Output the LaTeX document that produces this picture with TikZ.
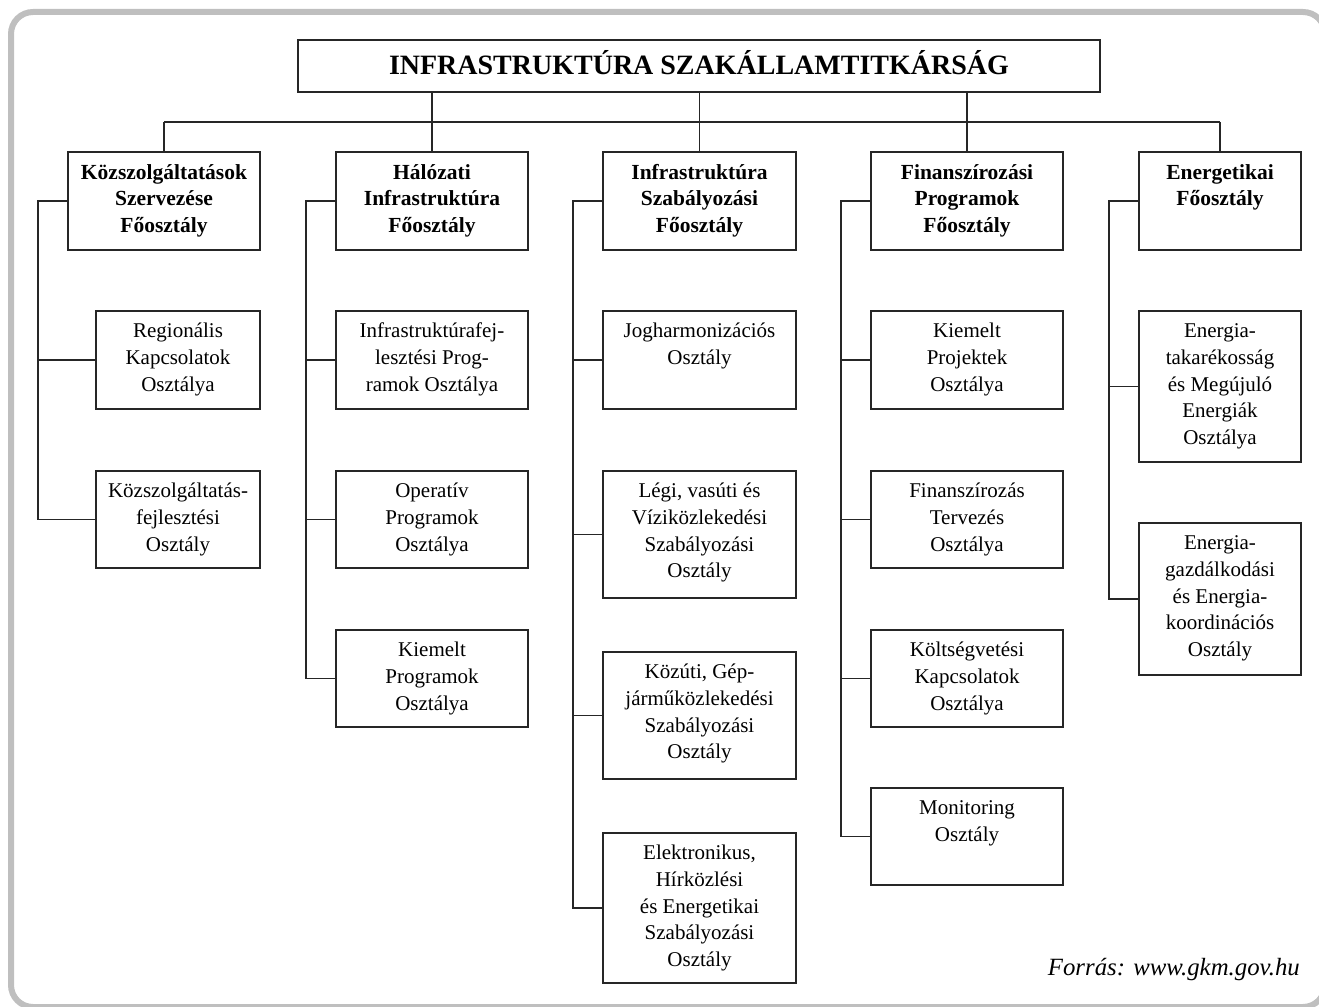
\documentclass[tikz,border=0pt]{standalone}
\usepackage{fontspec}
\setmainfont{Liberation Serif}
\tikzset{
  ln/.style={draw=black!85, line width=1.3pt},
  bx/.style={draw=black!85, line width=1.3pt, inner sep=0pt, outer sep=0pt, anchor=north west, text=black},
}
\newcommand\boxtext[5]{\parbox[c][#2pt][t]{#1pt}{\centering#4\rule{0pt}{#3pt}#5}}
\newcommand\hd[3]{\boxtext{#1}{#2}{27}{\fontsize{21.5}{26.6}\selectfont\bfseries}{#3}}
\newcommand\ch[3]{\boxtext{#1}{#2}{26.8}{\fontsize{21}{26.6}\selectfont}{#3}}
\begin{document}
\begin{tikzpicture}[x=1pt,y=-1pt]
\useasboundingbox (0,0) rectangle (1319,1006);
\clip (0,0) rectangle (1319,1006);
\draw[draw=black!25, line width=6pt, rounded corners=22pt] (11,12) rectangle (1325,1007);

% title
\node[bx] (T) at (298,40) {\boxtext{802}{52}{35}{\fontsize{28}{30}\selectfont\bfseries}{INFRASTRUKTÚRA SZAKÁLLAMTITKÁRSÁG}};

% level 1
\node[bx] (K1) at (68,152) {\hd{192}{98}{Közszolgáltatások\\Szervezése\\Főosztály}};
\node[bx] (K2) at (336,152) {\hd{192}{98}{Hálózati\\Infrastruktúra\\Főosztály}};
\node[bx] (K3) at (603,152) {\hd{193}{98}{Infrastruktúra\\Szabályozási\\Főosztály}};
\node[bx] (K4) at (871,152) {\hd{192}{98}{Finanszírozási\\Programok\\Főosztály}};
\node[bx] (K5) at (1139,152) {\hd{162}{98}{Energetikai\\Főosztály}};

% column 1
\node[bx] (A1) at (96,311) {\ch{164}{98}{Regionális\\Kapcsolatok\\Osztálya}};
\node[bx] (A2) at (96,471) {\ch{164}{97}{Közszolgáltatás-\\fejlesztési\\Osztály}};
% column 2
\node[bx] (B1) at (336,311) {\ch{192}{98}{Infrastruktúrafej-\\lesztési Prog-\\ramok Osztálya}};
\node[bx] (B2) at (336,471) {\ch{192}{97}{Operatív\\Programok\\Osztálya}};
\node[bx] (B3) at (336,630) {\ch{192}{97}{Kiemelt\\Programok\\Osztálya}};
% column 3
\node[bx] (C1) at (603,311) {\ch{193}{98}{Jogharmonizációs\\Osztály}};
\node[bx] (C2) at (603,471) {\ch{193}{127}{Légi, vasúti és\\Víziközlekedési\\Szabályozási\\Osztály}};
\node[bx] (C3) at (603,652) {\ch{193}{127}{Közúti, Gép-\\járműközlekedési\\Szabályozási\\Osztály}};
\node[bx] (C4) at (603,833) {\ch{193}{150}{Elektronikus,\\Hírközlési\\és Energetikai\\Szabályozási\\Osztály}};
% column 4
\node[bx] (D1) at (871,311) {\ch{192}{98}{Kiemelt\\Projektek\\Osztálya}};
\node[bx] (D2) at (871,471) {\ch{192}{97}{Finanszírozás\\Tervezés\\Osztálya}};
\node[bx] (D3) at (871,630) {\ch{192}{97}{Költségvetési\\Kapcsolatok\\Osztálya}};
\node[bx] (D4) at (871,788) {\ch{192}{97}{Monitoring\\Osztály}};
% column 5
\node[bx] (E1) at (1139,311) {\ch{162}{151}{Energia-\\takarékosság\\és Megújuló\\Energiák\\Osztálya}};
\node[bx] (E2) at (1139,523) {\ch{162}{152}{Energia-\\gazdálkodási\\és Energia-\\koordinációs\\Osztály}};

% top connectors
\coordinate (bus) at (0,122);
\draw[ln] (K1.north |- bus) -- (K5.north |- bus);
\draw[ln] (K1.north |- bus) -- (K1.north);
\draw[ln] (K5.north |- bus) -- (K5.north);
\draw[ln] (T.south -| K2.north) -- (K2.north);
\draw[ln] (T.south -| K3.north) -- (K3.north);
\draw[ln] (T.south -| K4.north) -- (K4.north);

% brackets
\foreach \p/\c in {K1/A1,K1/A2,K2/B1,K2/B2,K2/B3,K3/C1,K3/C2,K3/C3,K3/C4,K4/D1,K4/D2,K4/D3,K4/D4,K5/E1,K5/E2}
  \draw[ln] (\p.west) -- ++(-30,0) |- (\c.west);

% source
\node[anchor=base east, font=\fontsize{24.8}{29}\selectfont\itshape, text=black, inner sep=0pt] (src) at (1300,975) {Forrás: www.gkm.gov.hu};
\end{tikzpicture}
\end{document}
